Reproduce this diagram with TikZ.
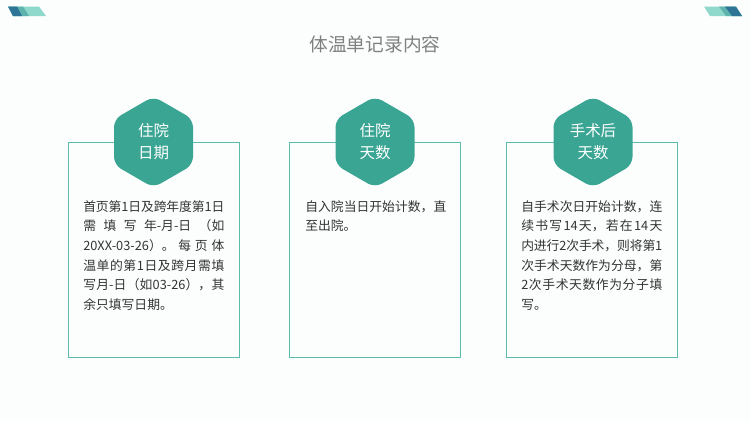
\documentclass[tikz,border=0pt]{standalone}
\usepackage{fontspec}
\usepackage{xcolor}
\setmainfont{Noto Sans CJK SC}
\XeTeXlinebreaklocale "zh"
\XeTeXlinebreakskip=0pt plus 2pt minus 0.4pt
\usetikzlibrary{shapes.geometric}
\definecolor{hexgreen}{HTML}{3BA594}
\definecolor{boxline}{HTML}{5DBBAB}
\definecolor{bandlight}{HTML}{8FD8CC}
\definecolor{bandmid}{HTML}{5FB3AE}
\definecolor{banddark}{HTML}{2E7496}
\definecolor{pagetint}{HTML}{FCFEFE}
\tikzset{
  cardbox/.style={draw=boxline, line width=0.7pt},
  hexlabel/.style={regular polygon, regular polygon sides=6, shape border rotate=30, minimum size=2.28cm, inner sep=0pt,
    fill=hexgreen, rounded corners=0.2cm, text=white, font=\fontsize{11}{15.6}\selectfont, align=center},
  bodytext/.style={anchor=north west, inner sep=0pt, text width=3.525cm, align=justify,
    text=black!80, font=\fontsize{9.1}{14}\selectfont},
}
\begin{document}
\begin{tikzpicture}[x=0.025cm,y=-0.025cm]
\fill [pagetint] (0,0) rectangle (750,421);
\useasboundingbox (0,0) rectangle (750,421);
% corner bands
\fill [bandlight] (8,6.5) -- (39,6.5) -- (46,16) -- (13,16) -- cycle;
\fill [bandmid] (8,6.5) -- (23,6.5) -- (29,16) -- (13,16) -- cycle;
\fill [banddark] (8,6.5) -- (17,6.5) -- (22,16) -- (13,16) -- cycle;
\fill [bandlight] (704,6.5) -- (735,6.5) -- (742,16) -- (710,16) -- cycle;
\fill [bandmid] (719,6.5) -- (735,6.5) -- (742,16) -- (726,16) -- cycle;
\fill [banddark] (725,6.5) -- (736,6.5) -- (742,16) -- (732,16) -- cycle;
% title
\node (title) at (375,44) [text=black!50, font=\fontsize{13.3}{16}\selectfont] {体温单记录内容};
% cards
\draw [cardbox] (68.5,142.5) rectangle (239.5,357.5);
\draw [cardbox] (289.5,142.5) rectangle (460.5,357.5);
\draw [cardbox] (506.5,142.5) rectangle (677.5,357.5);
\node (hexdate) at (153.5,142) [hexlabel] {住院\\日期};
\node (hexstay) at (375,142) [hexlabel] {住院\\天数};
\node (hexop) at (593,142) [hexlabel] {手术后\\天数};
\node (textdate) at (83,200) [bodytext] {首页第1日及跨年度第1日\linebreak
需填写年-月-日（如\linebreak
20XX-03-26）。每页体\linebreak
温单的第1日及跨月需填\linebreak
写月-日（如03-26），其\linebreak
余只填写日期。};
\node (textstay) at (305,200) [bodytext] {自入院当日开始计数，直\linebreak
至出院。};
\node (textop) at (521,200) [bodytext] {自手术次日开始计数，连\linebreak
续书写14天，若在14天\linebreak
内进行2次手术，则将第1\linebreak
次手术天数作为分母，第\linebreak
2次手术天数作为分子填\linebreak
写。};
\end{tikzpicture}
\end{document}
